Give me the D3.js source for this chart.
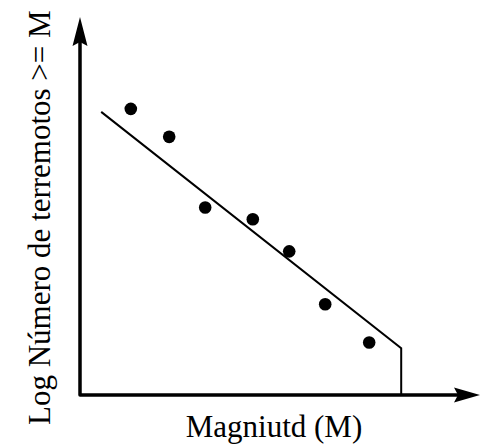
<!DOCTYPE html>
<html>
<head>
<meta charset="utf-8">
<script src="https://cdn.jsdelivr.net/npm/d3@7"></script>
<style>
  body { margin: 0; background: #fff; }
</style>
</head>
<body>
<div id="chart"></div>
<script>
// schematic Gutenberg-Richter plot (arbitrary units)
var magnitudes = [1.27, 2.23, 3.13, 4.32, 5.23, 6.13, 7.23];
var logCounts  = [7.57, 6.83, 4.96, 4.65, 3.80, 2.40, 1.39];

// fitted line, then the vertical drop at the max magnitude
var fitM   = [0.53, 8.03, 8.03];
var fitLog = [7.49, 1.24, 0];

var xLabel = "Magniutd (M)";
var yLabel = "Log Número de terremotos >= M";

var width = 486, height = 446;

var svg = d3.select("#chart").append("svg")
    .attr("width", width)
    .attr("height", height);

var x = d3.scaleLinear().domain([0, 10]).range([80, 480]);
var y = d3.scaleLinear().domain([0, 10]).range([395, 17]);

// axes as plain arrows (no ticks in the original)
svg.append("path")
    .attr("d", "M" + x(0) + "," + (y(10) + 20) + "V" + y(0) + "H" + (x(10) - 20))
    .attr("fill", "none")
    .attr("stroke", "#000")
    .attr("stroke-width", 3.5)
    .attr("stroke-linejoin", "round");

// arrow heads
svg.append("path")
    .attr("d", "M" + x(0) + "," + y(10) +
        "L" + (x(0) + 7.5) + "," + (y(10) + 29) +
        "L" + x(0) + "," + (y(10) + 25) +
        "L" + (x(0) - 7.5) + "," + (y(10) + 29) + "Z")
    .attr("fill", "#000");

svg.append("path")
    .attr("d", "M" + x(10) + "," + y(0) +
        "L" + (x(10) - 26) + "," + (y(0) - 7.5) +
        "L" + (x(10) - 22) + "," + y(0) +
        "L" + (x(10) - 26) + "," + (y(0) + 7.5) + "Z")
    .attr("fill", "#000");

// fit line
var line = d3.line()
    .x(function(d) { return x(d[0]); })
    .y(function(d) { return y(d[1]); });

svg.append("path")
    .datum(d3.zip(fitM, fitLog))
    .attr("d", line)
    .attr("fill", "none")
    .attr("stroke", "#000")
    .attr("stroke-width", 2);

// data points
svg.selectAll("circle.pt")
    .data(d3.zip(magnitudes, logCounts))
    .enter().append("circle")
    .attr("class", "pt")
    .attr("cx", function(d) { return x(d[0]); })
    .attr("cy", function(d) { return y(d[1]); })
    .attr("r", 6.3)
    .attr("fill", "#000");

// labels
svg.append("text")
    .attr("x", 274)
    .attr("y", 437)
    .attr("text-anchor", "middle")
    .attr("font-family", "Liberation Serif")
    .attr("font-size", 31)
    .text(xLabel);

svg.append("text")
    .attr("transform", "translate(50,425) rotate(-90)")
    .attr("text-anchor", "start")
    .attr("font-family", "Liberation Serif")
    .attr("font-size", 31)
    .text(yLabel);
</script>
</body>
</html>
